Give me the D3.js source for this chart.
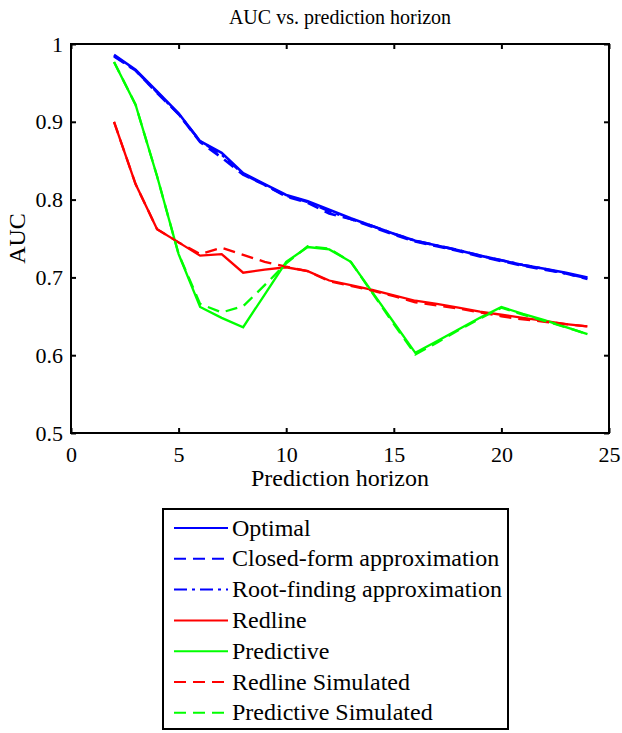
<!DOCTYPE html>
<html>
<head>
<meta charset="utf-8">
<script src="https://cdn.jsdelivr.net/npm/d3@7"></script>
<style>
  body { margin: 0; background: #fff; }
  svg text { font-family: "Liberation Serif", "Times New Roman", serif; fill: #000; }
</style>
</head>
<body>
<div id="chart"></div>
<script>
// prediction horizons
const horizons = d3.range(2, 25);

const optimal = [0.986, 0.967, 0.939, 0.911, 0.875, 0.860, 0.834, 0.820, 0.806, 0.798, 0.787, 0.776, 0.766, 0.756, 0.747, 0.741, 0.735, 0.728, 0.722, 0.716, 0.711, 0.706, 0.700];
const closedForm = [0.984, 0.966, 0.937, 0.910, 0.874, 0.854, 0.832, 0.819, 0.804, 0.796, 0.782, 0.775, 0.765, 0.755, 0.746, 0.740, 0.734, 0.727, 0.721, 0.715, 0.710, 0.705, 0.698];
const rootFinding = [0.985, 0.966, 0.938, 0.910, 0.875, 0.858, 0.833, 0.819, 0.805, 0.797, 0.785, 0.775, 0.766, 0.756, 0.747, 0.741, 0.735, 0.728, 0.722, 0.716, 0.711, 0.705, 0.699];
const redline = [0.900, 0.820, 0.762, 0.745, 0.728, 0.730, 0.706, 0.710, 0.713, 0.708, 0.696, 0.690, 0.684, 0.677, 0.670, 0.666, 0.661, 0.656, 0.652, 0.648, 0.644, 0.640, 0.637];
const predictive = [0.977, 0.922, 0.830, 0.730, 0.662, 0.648, 0.636, 0.678, 0.720, 0.739, 0.736, 0.720, 0.681, 0.642, 0.603, 0.618, 0.633, 0.648, 0.662, 0.653, 0.645, 0.636, 0.627];
const redlineSim = [0.900, 0.820, 0.762, 0.745, 0.730, 0.738, 0.729, 0.720, 0.714, 0.708, 0.695, 0.689, 0.683, 0.676, 0.668, 0.664, 0.660, 0.655, 0.650, 0.646, 0.643, 0.640, 0.637];
const predictiveSim = [0.977, 0.922, 0.830, 0.730, 0.666, 0.655, 0.663, 0.690, 0.718, 0.740, 0.737, 0.720, 0.680, 0.640, 0.601, 0.616, 0.632, 0.647, 0.661, 0.652, 0.644, 0.636, 0.627];

const xTicks = [0, 5, 10, 15, 20, 25];
const yTicks = [0.5, 0.6, 0.7, 0.8, 0.9, 1];

const series = [
  {name: 'Optimal', values: optimal, color: '#0000ff', dash: null},
  {name: 'Closed-form approximation', values: closedForm, color: '#0000ff', dash: '12,7'},
  {name: 'Root-finding approximation', values: rootFinding, color: '#0000ff', dash: '13,5,3,5'},
  {name: 'Redline', values: redline, color: '#ff0000', dash: null},
  {name: 'Predictive', values: predictive, color: '#00ff00', dash: null},
  {name: 'Redline Simulated', values: redlineSim, color: '#ff0000', dash: '12,7'},
  {name: 'Predictive Simulated', values: predictiveSim, color: '#00ff00', dash: '12,7'}
];

const width = 622, height = 733;
const margin = {top: 44, left: 71, right: 13};
const plotW = width - margin.left - margin.right;
const plotH = 433 - margin.top;

const svg = d3.select('#chart').append('svg')
  .attr('width', width)
  .attr('height', height);

const x = d3.scaleLinear().domain([0, 25]).range([margin.left, margin.left + plotW]);
const y = d3.scaleLinear().domain([0.5, 1]).range([margin.top + plotH, margin.top]);

const g = svg.append('g');

// series
const line = d3.line()
  .x((d, i) => x(horizons[i]))
  .y(d => y(d));

g.selectAll('.series')
  .data(series)
  .enter().append('path')
  .attr('class', 'series')
  .attr('d', d => line(d.values))
  .attr('fill', 'none')
  .attr('stroke', d => d.color)
  .attr('stroke-width', d => d.color === '#0000ff' ? 2.6 : 2.3)
  .attr('stroke-dasharray', d => d.dash);

// axes box with inward ticks (matlab style)
const tickLen = 5;
const axisStyle = sel => {
  sel.select('.domain').remove();
  sel.selectAll('line').attr('stroke', '#000').attr('stroke-width', 2);
};

g.append('g')
  .attr('transform', `translate(0,${y(0.5)})`)
  .call(d3.axisBottom(x).tickValues(xTicks).tickSize(-tickLen).tickPadding(13).tickFormat(d3.format('d')))
  .call(axisStyle)
  .selectAll('text').attr('font-size', 22);

g.append('g')
  .attr('transform', `translate(0,${y(1)})`)
  .call(d3.axisTop(x).tickValues(xTicks).tickSize(-tickLen).tickFormat(''))
  .call(axisStyle);

g.append('g')
  .attr('transform', `translate(${x(0)},0)`)
  .call(d3.axisLeft(y).tickValues(yTicks).tickSize(-tickLen).tickPadding(8).tickFormat(d => d === 1 ? '1' : d3.format('.1f')(d)))
  .call(axisStyle)
  .selectAll('text').attr('font-size', 22);

g.append('g')
  .attr('transform', `translate(${x(25)},0)`)
  .call(d3.axisRight(y).tickValues(yTicks).tickSize(-tickLen).tickFormat(''))
  .call(axisStyle);

g.append('rect')
  .attr('x', x(0)).attr('y', y(1))
  .attr('width', x(25) - x(0)).attr('height', y(0.5) - y(1))
  .attr('fill', 'none').attr('stroke', '#000').attr('stroke-width', 2);

// labels
svg.append('text')
  .attr('x', (x(0) + x(25)) / 2).attr('y', 24)
  .attr('text-anchor', 'middle').attr('font-size', 20)
  .text('AUC vs. prediction horizon');

svg.append('text')
  .attr('x', (x(0) + x(25)) / 2).attr('y', 486)
  .attr('text-anchor', 'middle').attr('font-size', 24)
  .text('Prediction horizon');

svg.append('text')
  .attr('transform', `translate(25,${(y(0.5) + y(1)) / 2}) rotate(-90)`)
  .attr('text-anchor', 'middle').attr('font-size', 24)
  .text('AUC');

// legend
const legend = svg.append('g').attr('transform', 'translate(163,509)');
legend.append('rect')
  .attr('width', 345).attr('height', 220)
  .attr('fill', '#fff').attr('stroke', '#000').attr('stroke-width', 2);

const item = legend.selectAll('.item')
  .data(series)
  .enter().append('g')
  .attr('class', 'item')
  .attr('transform', (d, i) => `translate(0,${19 + i * 30.8})`);

item.append('line')
  .attr('x1', 11).attr('x2', 65)
  .attr('stroke', d => d.color)
  .attr('stroke-width', 2)
  .attr('stroke-dasharray', d => d.dash);

item.append('text')
  .attr('x', 69).attr('y', 7.5)
  .attr('font-size', 24)
  .text(d => d.name);
</script>
</body>
</html>
